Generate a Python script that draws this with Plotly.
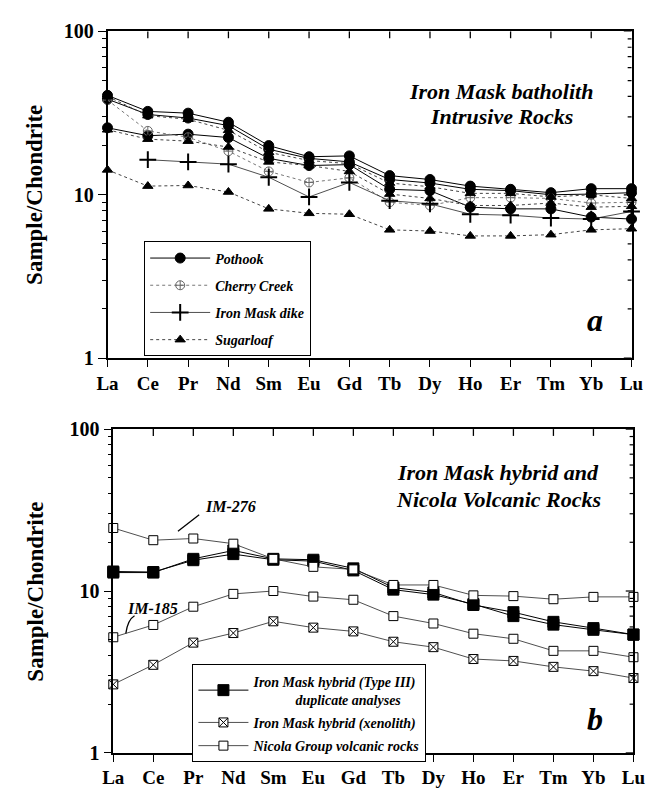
import plotly.graph_objects as go

# ---------------- data ----------------
elements = ["La", "Ce", "Pr", "Nd", "Sm", "Eu", "Gd", "Tb", "Dy", "Ho", "Er", "Tm", "Yb", "Lu"]

# panel a - Iron Mask batholith intrusive rocks
pothook_1 = [40.6, 32.4, 31.6, 27.8, 20.0, 17.1, 17.3, 13.1, 12.4, 11.3, 10.8, 10.3, 10.9, 10.9]
pothook_2 = [38.5, 31.0, 29.5, 26.5, 19.0, 16.7, 15.9, 12.4, 11.8, 10.8, 10.6, 10.0, 10.1, 10.3]
pothook_3 = [25.7, 23.0, 23.5, 22.4, 16.7, 15.1, 15.3, 10.8, 10.6, 8.4, 8.2, 8.2, 7.3, 7.1]
cherry_creek_1 = [38.0, 24.6, 22.5, 18.5, 13.9, 11.9, 12.7, 9.0, 8.6, 9.6, 9.6, 9.5, 8.9, 9.0]
iron_mask_dike_1 = [None, 16.4, 15.9, 15.4, 12.8, 9.7, 11.9, 9.2, 8.8, 7.6, 7.5, 7.2, 7.1, 7.9]
sugarloaf_1 = [40.0, 30.5, 29.0, 24.8, 18.2, 16.2, 15.5, 11.8, 11.2, 10.2, 10.2, 9.7, 10.0, 9.5]
sugarloaf_2 = [25.0, 21.9, 21.3, 19.6, 15.9, 15.1, 13.9, 10.1, 9.5, 8.6, 8.6, 8.9, 8.4, 8.5]
sugarloaf_3 = [14.2, 11.3, 11.4, 10.4, 8.2, 7.7, 7.6, 6.1, 6.0, 5.6, 5.6, 5.7, 6.1, 6.2]

# panel b - Iron Mask hybrid and Nicola volcanic rocks
type3_dup_1 = [13.0, 13.0, 15.8, 17.8, 15.8, 15.6, 13.8, 10.5, 9.8, 8.2, 7.4, 6.45, 5.9, 5.38]
type3_dup_2 = [13.2, 13.1, 15.5, 16.9, 15.6, 15.3, 13.4, 10.2, 9.5, 8.3, 7.0, 6.2, 5.76, 5.38]
xenolith = [2.65, 3.5, 4.8, 5.5, 6.5, 5.94, 5.63, 4.86, 4.5, 3.8, 3.7, 3.4, 3.2, 2.9]
nicola_im276 = [24.5, 20.6, 21.1, 19.6, 15.8, 14.1, 13.6, 10.9, 10.9, 9.4, 9.3, 8.9, 9.2, 9.2]
nicola_im185 = [5.18, 6.17, 8.0, 9.6, 10.0, 9.24, 8.83, 7.0, 6.3, 5.45, 5.07, 4.27, 4.27, 3.9]

major_ticks = [1, 10, 100]
minor_ticks = [2, 3, 4, 5, 6, 7, 8, 9, 20, 30, 40, 50, 60, 70, 80, 90]

W, H = 658, 796
SERIF = "Liberation Serif"


def px(x):
    return x / W


def py(y):
    return 1 - y / H


fig = go.Figure()


def add(series, name, first, symbol, size, mline, color, dash, lw, xa, ya, legend, mcolor="black", mlw=1):
    fig.add_trace(go.Scatter(
        x=elements, y=series, mode="lines+markers",
        name="<b><i>%s</i></b>" % name, legendgroup=name, showlegend=first,
        legend=legend, xaxis=xa, yaxis=ya, cliponaxis=False,
        line=dict(color=color, width=lw, dash=dash),
        marker=dict(symbol=symbol, size=size, color=mcolor,
                    line=dict(color=mline, width=mlw)),
        connectgaps=False, hoverinfo="skip"))


# panel a
for i, s in enumerate([pothook_1, pothook_2, pothook_3]):
    add(s, "Pothook", i == 0, "circle", 10, "black", "black", "solid", 1, "x", "y", "legend")
for i, s in enumerate([cherry_creek_1]):
    add(s, "Cherry Creek", i == 0, "circle-cross-open", 9, "#666", "#777", "dot", 1, "x", "y", "legend", mcolor="#666")
for i, s in enumerate([iron_mask_dike_1]):
    add(s, "Iron Mask dike", i == 0, "cross-thin-open", 12, "black", "#222", "solid", 0.8, "x", "y", "legend", mlw=2)
for i, s in enumerate([sugarloaf_1, sugarloaf_2, sugarloaf_3]):
    add(s, "Sugarloaf", i == 0, "triangle-up", 9, "black", "#444", "dot", 1, "x", "y", "legend")

# panel b
for i, s in enumerate([type3_dup_1, type3_dup_2]):
    add(s, "Iron Mask hybrid (Type III)<br>\u00a0\u00a0\u00a0\u00a0\u00a0\u00a0\u00a0\u00a0\u00a0\u00a0\u00a0\u00a0duplicate analyses",
        i == 0, "square", 11, "black", "black", "solid", 1, "x2", "y2", "legend2")
add(xenolith, "Iron Mask hybrid (xenolith)", True, "square-x", 9, "black", "#222", "solid", 0.8, "x2", "y2", "legend2", mcolor="white")
for i, s in enumerate([nicola_im276, nicola_im185]):
    add(s, "Nicola Group volcanic rocks", i == 0, "square", 9, "black", "#222", "solid", 0.8, "x2", "y2", "legend2", mcolor="white")

tick_font = dict(family=SERIF, size=20, color="black", weight="bold")
xtick_font = dict(family=SERIF, size=19, color="black", weight="bold")

dom_a_x = [px(100), px(643)]
dom_b_x = [px(106), px(645)]
dom_a_y = [py(357), py(21)]
dom_b_y = [py(763), py(430)]


def xax(domain, anchor):
    return dict(domain=domain, anchor=anchor, type="category", range=[0, 13],
                showline=True, linecolor="black", linewidth=1.5, mirror=True,
                ticks="outside", ticklen=7, tickwidth=1.3, tickcolor="black",
                tickfont=xtick_font, showgrid=False, zeroline=False)


def yax(domain, anchor):
    return dict(domain=domain, anchor=anchor, type="log", range=[0, 2],
                showline=True, linecolor="black", linewidth=1.5, mirror=True,
                ticks="outside", ticklen=8, tickwidth=1.3, tickcolor="black",
                tickvals=major_ticks, ticktext=[str(v) for v in major_ticks], tickfont=tick_font,
                minor=dict(ticks="outside", ticklen=4, tickwidth=1, tickcolor="black",
                           tickvals=minor_ticks, showgrid=False),
                showgrid=False, zeroline=False)


legend_font = dict(family=SERIF, size=14, color="black")

fig.update_layout(
    width=W, height=H, margin=dict(l=0, r=0, t=0, b=0),
    paper_bgcolor="white", plot_bgcolor="white",
    xaxis=xax(dom_a_x, "y"), yaxis=yax(dom_a_y, "x"),
    xaxis2=xax(dom_b_x, "y2"), yaxis2=yax(dom_b_y, "x2"),
    legend=dict(x=px(138), y=py(237), xanchor="left", yanchor="top",
                bordercolor="black", borderwidth=1, bgcolor="white",
                font=legend_font, itemwidth=60, tracegroupgap=6, traceorder="grouped"),
    legend2=dict(x=px(188), y=py(672), xanchor="left", yanchor="top",
                 bordercolor="black", borderwidth=1, bgcolor="white",
                 font=legend_font, itemwidth=50, tracegroupgap=2, traceorder="grouped"),
    showlegend=True,
)

# inward frame ticks on the top and right edges of both panels
n_int = len(elements) - 1
panels = [("x", "y", dom_a_x, dom_a_y), ("x2", "y2", dom_b_x, dom_b_y)]
for xr, yr, dx, dy in panels:
    pw = (dx[1] - dx[0]) * W
    ph = (dy[1] - dy[0]) * H
    for i in range(1, n_int):
        fx = i / n_int
        fig.add_shape(type="line", xref=xr + " domain", yref=yr + " domain",
                      x0=fx, x1=fx, y0=1, y1=1 - 7 / ph,
                      line=dict(color="black", width=1.3))
    for v, ln in [(m, 8) for m in major_ticks] + [(m, 4) for m in minor_ticks]:
        fig.add_shape(type="line", xref=xr + " domain", yref=yr, x0=1, x1=1 - ln / pw, y0=v, y1=v,
                      line=dict(color="black", width=1.2))

ann_font = dict(family=SERIF, color="black")


def note(text, x, y, size, xanchor="center", angle=0):
    fig.add_annotation(text=text, x=px(x), y=py(y), xref="paper", yref="paper",
                       xanchor=xanchor, yanchor="middle", showarrow=False, textangle=angle,
                       font=dict(ann_font, size=size))


note("<b>Sample/Chondrite</b>", 25, 189, 23, angle=-90)
note("<b>Sample/Chondrite</b>", 25, 597, 23, angle=-90)
note("<b><i>Iron Mask batholith</i></b>", 508, 83, 22)
note("<b><i>Intrusive Rocks</i></b>", 508, 108, 22)
note("<b><i>Iron Mask hybrid and</i></b>", 505, 475, 22)
note("<b><i>Nicola Volcanic Rocks</i></b>", 505, 502, 22)
note("<b><i>a</i></b>", 605, 318, 32)
note("<b><i>b</i></b>", 605, 728, 32)
note("<b><i>IM-276</i></b>", 227, 510, 16)
note("<b><i>IM-185</i></b>", 147, 614, 16)

fig.add_shape(type="line", xref="paper", yref="paper", x0=px(173), y0=py(535), x1=px(195), y1=py(518),
              line=dict(color="black", width=1.3))
fig.add_shape(type="path", xref="paper", yref="paper",
              path="M %f,%f Q %f,%f %f,%f" % (px(119), py(640), px(121), py(626), px(128), py(622)),
              line=dict(color="black", width=1.3))

fig.write_html("out.html")
